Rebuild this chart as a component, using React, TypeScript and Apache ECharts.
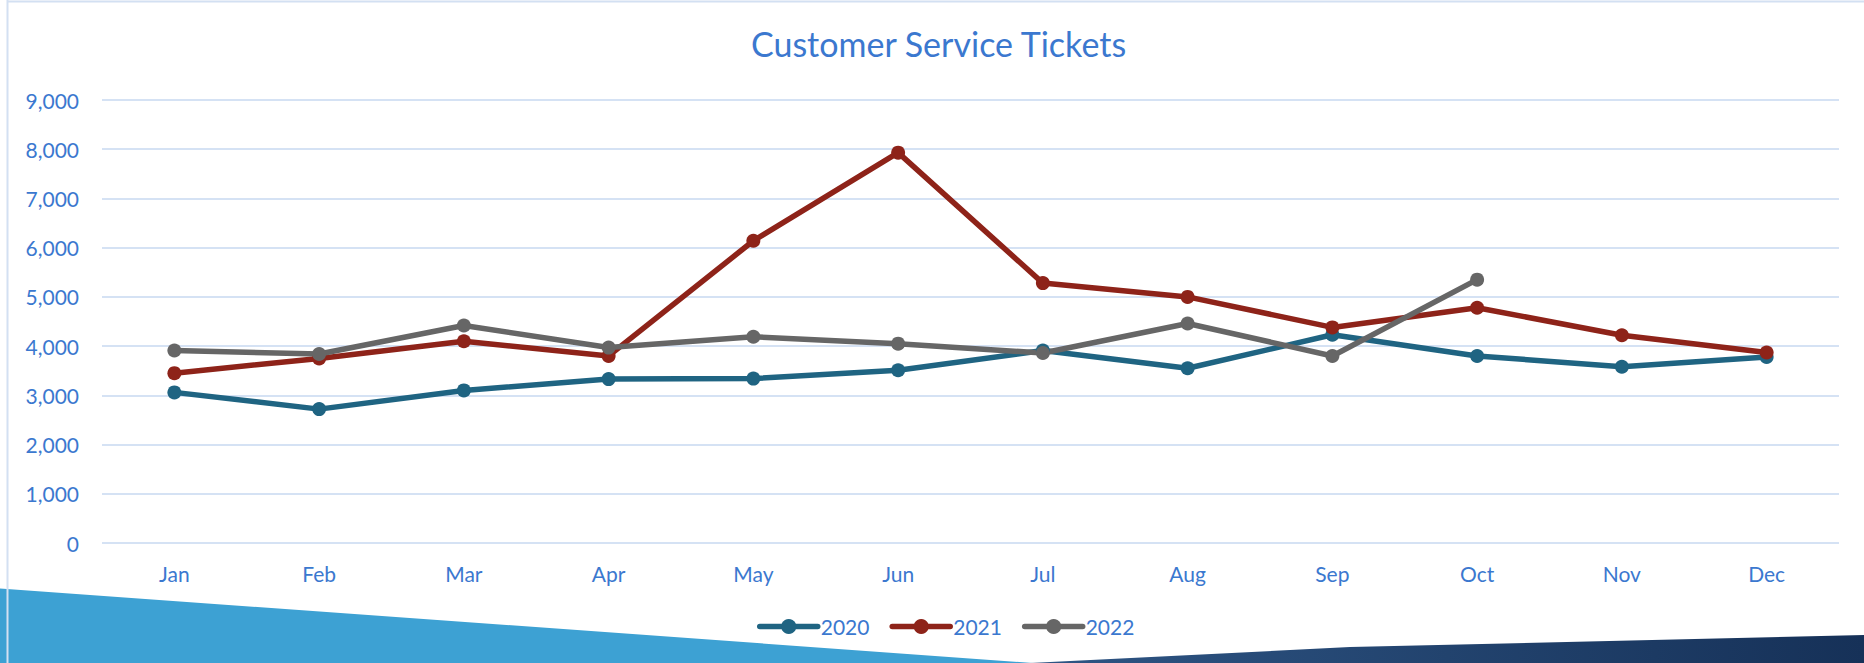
import React, { useEffect, useRef } from "react";
import * as echarts from "echarts";

const months = ["Jan", "Feb", "Mar", "Apr", "May", "Jun", "Jul", "Aug", "Sep", "Oct", "Nov", "Dec"];
const seriesNames = ["2020", "2021", "2022"];
const values2020 = [3060, 2720, 3100, 3330, 3340, 3510, 3910, 3550, 4230, 3800, 3580, 3780];
const values2021 = [3450, 3750, 4100, 3800, 6140, 7930, 5280, 5000, 4380, 4780, 4220, 3870];
const values2022: (number | null)[] = [3910, 3840, 4420, 3970, 4190, 4050, 3860, 4460, 3800, 5350, null, null];
const yMin = 0;
const yMax = 9000;
const yStep = 1000;
const titleText = "Customer Service Tickets";

const colors = ["#1F6482", "#8E2319", "#666666"];
const textColor = "#3B78CF";
const font = "Lato, 'Open Sans', sans-serif";

export default function App() {
  const ref = useRef<HTMLDivElement>(null);
  useEffect(() => {
    const chart = echarts.init(ref.current!, null, { renderer: "svg" });
    const data = [values2020, values2021, values2022];
    chart.setOption({
      animation: false,
      backgroundColor: "#ffffff",
      title: {
        text: titleText,
        left: 751,
        top: 26,
        padding: 0,
        textStyle: { color: textColor, fontSize: 34, fontWeight: "normal", fontFamily: font },
      },
      legend: {
        data: seriesNames,
        left: 752,
        top: 611,
        itemWidth: 58,
        itemHeight: 19,
        itemGap: 20,
        lineStyle: { width: 5.5, cap: "round" },
        textStyle: { color: textColor, fontSize: 21, fontFamily: font, padding: [0, 0, 0, -2] },
      },
      grid: { left: 102, right: 25, top: 100, bottom: 120, containLabel: false },
      xAxis: {
        type: "category",
        data: months,
        boundaryGap: true,
        axisLine: { show: false },
        axisTick: { show: false },
        axisLabel: { color: textColor, fontSize: 21, fontFamily: font, margin: 20 },
        splitLine: { show: false },
      },
      yAxis: {
        type: "value",
        min: yMin,
        max: yMax,
        interval: yStep,
        axisLine: { show: false },
        axisTick: { show: false },
        axisLabel: {
          color: textColor,
          fontSize: 21,
          fontFamily: font,
          margin: 23,
          formatter: (v: number) => v.toLocaleString("en-US"),
        },
        splitLine: { lineStyle: { color: "#D5E2F4", width: 2 } },
      },
      graphic: [
        {
          type: "polygon",
          z: -10,
          silent: true,
          shape: { points: [[0, 588.4], [1033, 663], [0, 663]] },
          style: { fill: "#3DA1D3" },
        },
        {
          type: "polygon",
          z: -10,
          silent: true,
          shape: { points: [[1030, 663], [1350, 647], [1864, 635], [1864, 663]] },
          style: {
            fill: new echarts.graphic.LinearGradient(0, 0, 1, 0, [
              { offset: 0, color: "#2E5584" },
              { offset: 1, color: "#163158" },
            ]),
          },
        },
        {
          type: "line",
          z: -5,
          silent: true,
          shape: { x1: 7.5, y1: 0, x2: 7.5, y2: 663 },
          style: { stroke: "#D3E0F2", lineWidth: 2 },
        },
        {
          type: "line",
          z: -5,
          silent: true,
          shape: { x1: 7, y1: 1.5, x2: 1864, y2: 1.5 },
          style: { stroke: "#D3E0F2", lineWidth: 2 },
        },
      ],
      series: seriesNames.map((name, i) => ({
        name,
        type: "line",
        data: data[i],
        symbol: "circle",
        symbolSize: 14,
        connectNulls: false,
        lineStyle: { color: colors[i], width: 5.5 },
        itemStyle: { color: colors[i] },
        emphasis: { disabled: true },
      })),
    });
    return () => chart.dispose();
  }, []);
  return (
    <div
      ref={ref}
      style={{ position: "absolute", left: 0, top: 0, width: 1864, height: 663, background: "#fff" }}
    />
  );
}
